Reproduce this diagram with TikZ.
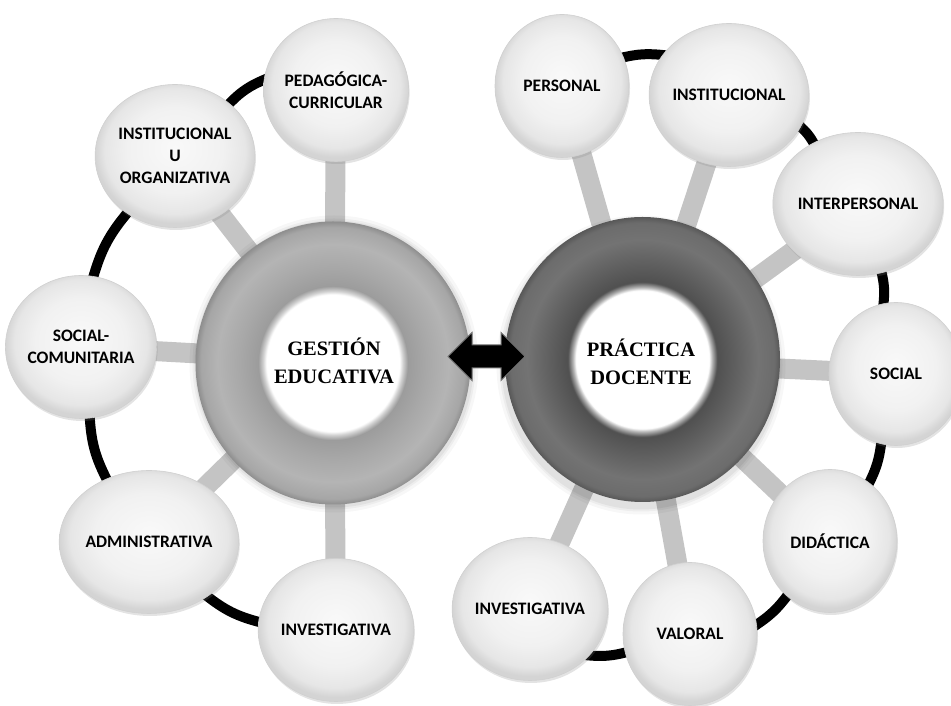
\documentclass[tikz,border=0pt]{standalone}
\usepackage{fontspec}
\setmainfont{Liberation Serif}
\newfontfamily\satfont{Carlito}
\usetikzlibrary{shapes.geometric,shapes.arrows,shadows}
\pgfdeclarelayer{bg}
\pgfdeclarelayer{mid}
\pgfsetlayers{bg,mid,main}
\definecolor{spokegray}{HTML}{C4C4C4}
\definecolor{satrim}{HTML}{D0D0D0}
\definecolor{rlA}{HTML}{D2D2D2}
\definecolor{rlB}{HTML}{9C9C9C}
\definecolor{rlC}{HTML}{A8A8A8}
\definecolor{rlD}{HTML}{B4B4B4}
\definecolor{rlE}{HTML}{A6A6A6}
\definecolor{rlF}{HTML}{8E8E8E}
\definecolor{rdA}{HTML}{B0B0B0}
\definecolor{rdB}{HTML}{505050}
\definecolor{rdC}{HTML}{606060}
\definecolor{rdD}{HTML}{737373}
\definecolor{rdE}{HTML}{6C6C6C}
\definecolor{rdF}{HTML}{585858}
\definecolor{sA}{HTML}{F9F9F9}
\definecolor{sB}{HTML}{F1F1F1}
\definecolor{sC}{HTML}{E6E6E6}
\definecolor{sD}{HTML}{D4D4D4}
\pgfdeclareradialshading{ringlight}{\pgfpoint{0bp}{0bp}}{color(0bp)=(white); color(12.1bp)=(white); color(12.7bp)=(rlA); color(13.6bp)=(rlB); color(17bp)=(rlC); color(21bp)=(rlD); color(24bp)=(rlE); color(25bp)=(rlF); color(50bp)=(rlF)}
\pgfdeclareradialshading{ringdark}{\pgfpoint{0bp}{0bp}}{color(0bp)=(white); color(12.1bp)=(white); color(12.7bp)=(rdA); color(13.6bp)=(rdB); color(17bp)=(rdC); color(21bp)=(rdD); color(24bp)=(rdE); color(25bp)=(rdF); color(50bp)=(rdF)}
\pgfdeclareradialshading{satsh}{\pgfpoint{0bp}{3bp}}{color(0bp)=(sA); color(15bp)=(sB); color(22bp)=(sC); color(25bp)=(sD); color(50bp)=(sD)}
\tikzset{
  sat/.style={ellipse, minimum width=134pt, minimum height=143pt, inner sep=0pt,
    shade, shading=satsh, draw=satrim, line width=0.6pt,
    drop shadow={shadow xshift=1pt, shadow yshift=-2.5pt, opacity=0.22, fill=black!50},
    font=\satfont\bfseries\fontsize{17.5}{22}\selectfont, align=center, text=black},
  ctext/.style={font=\bfseries\fontsize{20.5}{28}\selectfont, align=center, inner sep=0pt, text=black},
  spoke/.style={line width=20pt, draw=spokegray},
  orbit/.style={line width=10pt, draw=black, shorten <=-4pt, shorten >=-4pt},
  dblarr/.style={double arrow, double arrow head extend=12.5pt, double arrow head indent=0pt,
    minimum height=77pt, inner xsep=0pt, inner ysep=11pt, fill=black, draw=black!55, line width=1pt}
}
\begin{document}
\begin{tikzpicture}[x=1pt,y=1pt]
\useasboundingbox (0,0) rectangle (951,706);
% centres
\node[ctext] (G) at (334,345) {GESTIÓN\\EDUCATIVA};
\node[ctext] (P) at (641,344) {PRÁCTICA\\DOCENTE};
% left satellites
\node[sat] (ped) at (336,616) {PEDAGÓGICA-\\CURRICULAR};
\node[sat] (inst) at (175,550) {INSTITUCIONAL\\U\\ORGANIZATIVA};
\node[sat] (soc) at (81,359) {SOCIAL-\\COMUNITARIA};
\node[sat] (adm) at (149,164) {ADMINISTRATIVA};
\node[sat] (invL) at (336,76) {INVESTIGATIVA};
% right satellites
\node[sat] (pers) at (562,620) {PERSONAL};
\node[sat] (instR) at (729,611) {INSTITUCIONAL};
\node[sat] (inter) at (858,502) {INTERPERSONAL};
\node[sat] (socR) at (896,332) {SOCIAL};
\node[sat] (did) at (830,165) {DIDÁCTICA};
\node[sat] (val) at (690,72) {VALORAL};
\node[sat] (invR) at (530,97) {INVESTIGATIVA};
% double arrow
\node[dblarr] (arr) at (486.5,349.5) {};
% rings
\begin{pgfonlayer}{mid}
  \foreach \r/\o in {7/0.03,4/0.04,2/0.05} {
    \fill[black, opacity=\o] ([yshift=-3pt]G.center) ellipse [x radius=137.5+\r, y radius=141.5+\r];
    \fill[black, opacity=\o] ([yshift=-3pt]P.center) ellipse [x radius=137.5+\r, y radius=142.5+\r];
  }
  \shade[shading=ringlight] ([xshift=-1pt,yshift=-2pt]G.center) ellipse [x radius=137.5, y radius=141.5];
  \shade[shading=ringdark] ([xshift=1.5pt,yshift=2.5pt]P.center) ellipse [x radius=137.5, y radius=142.5];
\end{pgfonlayer}
% spokes and orbits
\begin{pgfonlayer}{bg}
  \foreach \s in {ped,inst,soc,adm,invL} \draw[spoke] (G.center) -- (\s.center);
  \foreach \s in {pers,instR,inter,socR,did,val,invR} \draw[spoke] (P.center) -- (\s.center);
  \draw[orbit] (ped.172) to[bend right=12] (inst.44);
  \draw[orbit] (inst.230) to[bend right=12] (soc.80);
  \draw[orbit] (soc.277) to[bend right=12] (adm.124);
  \draw[orbit] (adm.317) to[bend right=12] (invL.174);
  \draw[orbit] (pers.25) to[bend left=10] (instR.149);
  \draw[orbit] (instR.336) to[bend left=10] (inter.126);
  \draw[orbit] (inter.289) to[bend left=10] (socR.100);
  \draw[orbit] (socR.258) to[bend left=10] (did.56);
  \draw[orbit] (did.232) to[bend left=10] (val.8);
  \draw[orbit] (val.196) to[bend left=10] (invR.322);
\end{pgfonlayer}
\end{tikzpicture}
\end{document}
